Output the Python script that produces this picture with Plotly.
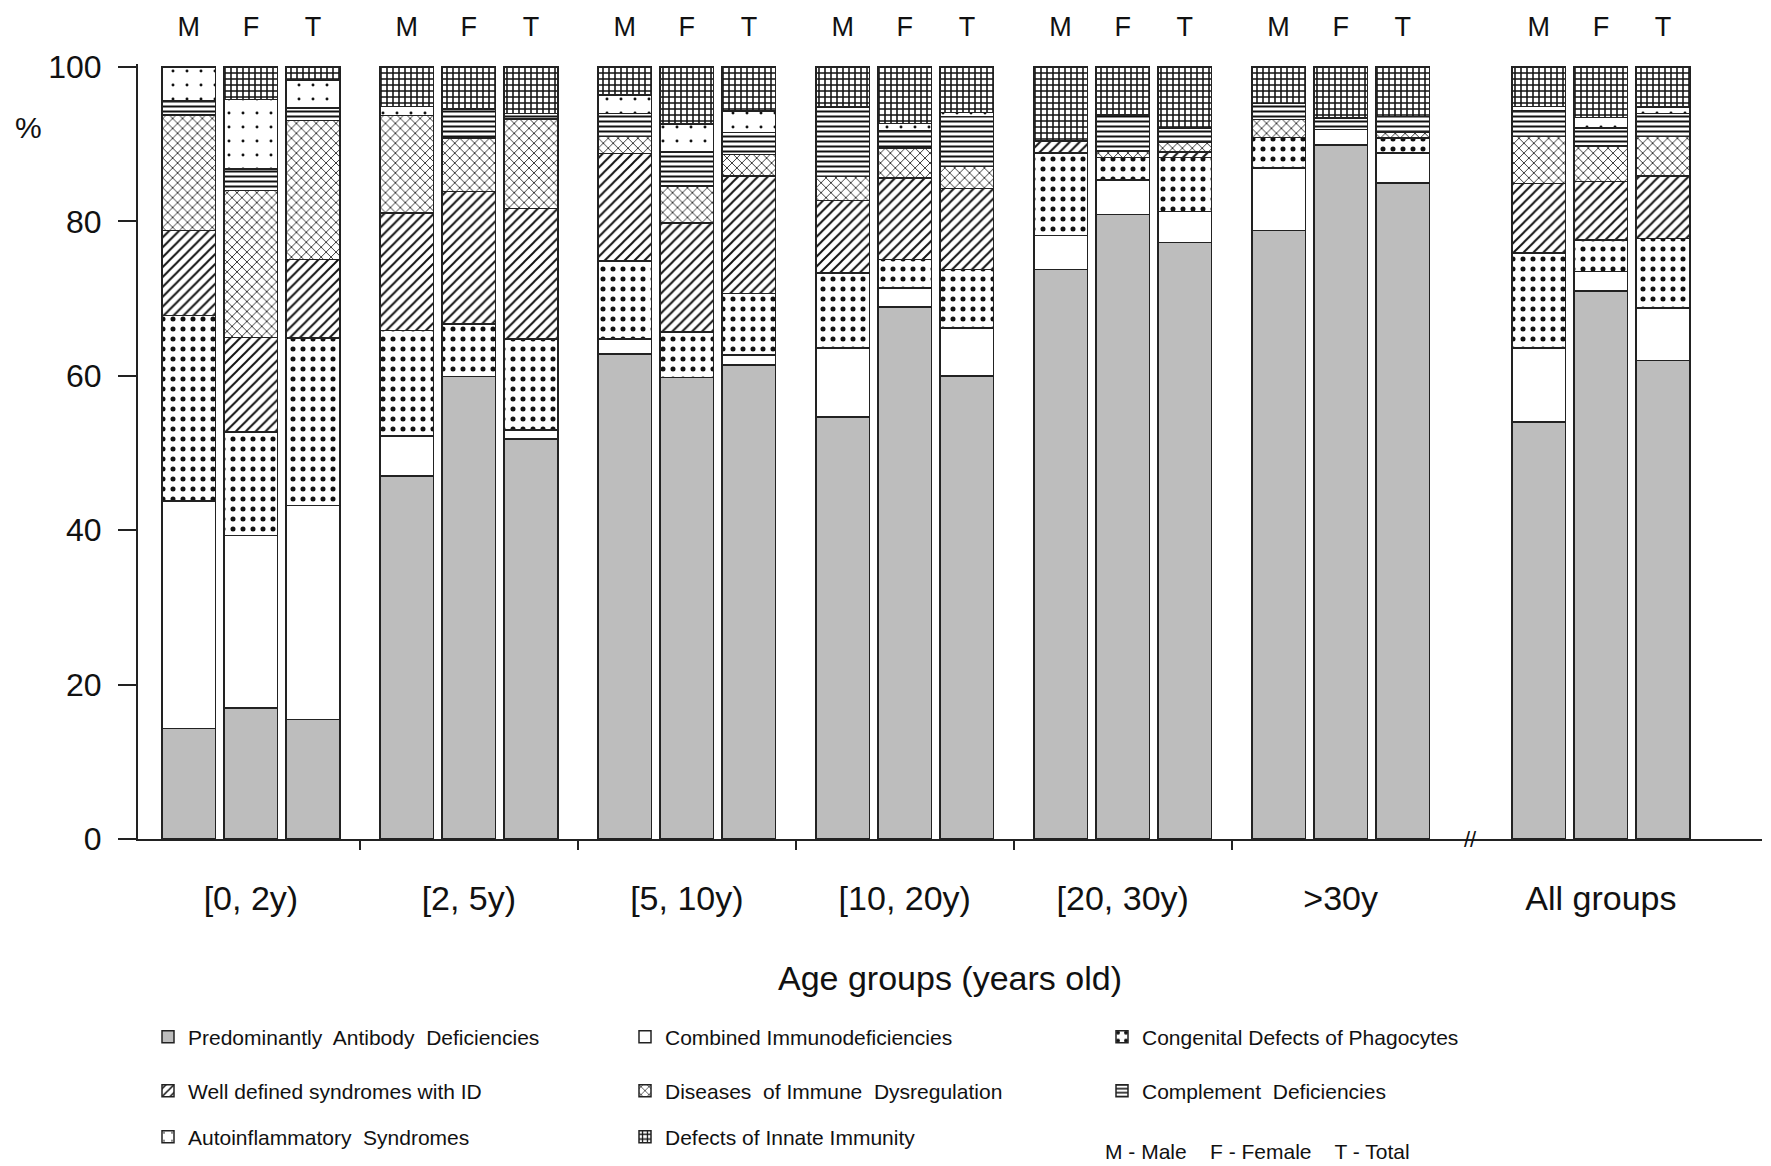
import plotly.graph_objects as go

# ---------------- data ----------------
groups = ["[0, 2y)", "[2, 5y)", "[5, 10y)", "[10, 20y)", "[20, 30y)", ">30y", "All groups"]
sexes = ["M", "F", "T"]

categories = [
    "Predominantly  Antibody  Deficiencies",
    "Combined Immunodeficiencies",
    "Congenital Defects of Phagocytes",
    "Well defined syndromes with ID",
    "Diseases  of Immune  Dysregulation",
    "Complement  Deficiencies",
    "Autoinflammatory  Syndromes",
    "Defects of Innate Immunity",
]

# values (%) ordered group by group, M F T within each group
pad      = [14.3, 17.0, 15.5, 47.0, 59.9, 51.8, 62.8, 59.8, 61.4, 54.7, 68.9, 60.0, 73.8, 80.9, 77.3, 78.8, 89.9, 85.0, 54.0, 71.0, 62.0]
combined = [29.5, 22.3, 27.7, 5.2, 0.0, 1.2, 2.0, 0.0, 1.3, 8.9, 2.5, 6.2, 4.4, 4.5, 4.0, 8.1, 2.0, 3.9, 9.6, 2.5, 6.8]
phago    = [24.0, 13.4, 21.7, 13.7, 6.8, 11.8, 10.1, 5.9, 8.0, 9.7, 3.7, 7.6, 10.7, 2.9, 7.0, 4.0, 0.0, 1.9, 12.3, 4.1, 9.0]
welldef  = [11.0, 12.3, 10.2, 15.2, 17.2, 16.9, 13.9, 14.1, 15.2, 9.4, 10.5, 10.5, 1.5, 0.0, 0.7, 0.0, 0.0, 0.0, 9.0, 7.6, 8.1]
dysreg   = [15.0, 19.0, 18.0, 12.6, 6.9, 11.6, 2.2, 4.8, 2.8, 3.1, 3.9, 2.8, 0.0, 0.8, 1.3, 2.3, 0.0, 0.8, 6.1, 4.6, 5.1]
compl    = [1.8, 2.8, 1.6, 0.0, 3.8, 0.7, 3.0, 4.4, 2.8, 9.0, 2.2, 6.5, 0.0, 4.7, 1.8, 2.1, 1.5, 2.0, 3.3, 2.3, 3.0]
autoinf  = [4.4, 9.0, 3.6, 1.2, 0.0, 0.0, 2.4, 3.6, 2.8, 0.0, 1.0, 0.5, 0.0, 0.0, 0.0, 0.0, 0.0, 0.0, 0.6, 1.4, 0.8]
innate   = [0.0, 4.2, 1.7, 5.1, 5.4, 6.0, 3.6, 7.4, 5.7, 5.2, 7.3, 5.9, 9.6, 6.2, 7.9, 4.7, 6.6, 6.4, 5.1, 6.5, 5.2]

series = [pad, combined, phago, welldef, dysreg, compl, autoinf, innate]

y_ticks = [0, 20, 40, 60, 80, 100]

# ---------------- layout helpers ----------------
ALL_GAP = 0.194   # extra space before "All groups"
INNER = 0.285     # spacing between M/F/T bars within a group
BAR_W = 0.246
X_RANGE = [-0.518, 6.933]

group_centers = [i + (ALL_GAP if g == "All groups" else 0.0) for i, g in enumerate(groups)]
x_pos = [c + (j - 1) * INNER for c in group_centers for j in range(len(sexes))]
sex_labels = sexes * len(groups)
boundaries = [i + 0.5 for i in range(5)]

styles = [
    dict(color="#bdbdbd", pattern=None),
    dict(color="white", pattern=None),
    dict(color="white", pattern=dict(shape=".", size=10, solidity=0.2)),
    dict(color="white", pattern=dict(shape="/", size=7, solidity=0.28)),
    dict(color="white", pattern=dict(shape="x", size=7, solidity=0.22)),
    dict(color="white", pattern=dict(shape="-", size=5, solidity=0.4)),
    dict(color="white", pattern=dict(shape=".", size=14, solidity=0.035)),
    dict(color="white", pattern=dict(shape="+", size=6, solidity=0.45)),
]
legend_of = ["legend", "legend", "legend", "legend2", "legend2", "legend2", "legend3", "legend3"]

FONT = "Liberation Sans, Arial, sans-serif"
TXT = "#111111"

fig = go.Figure()
for name, vals, st, lg in zip(categories, series, styles, legend_of):
    marker = dict(color=st["color"], line=dict(color="#222222", width=1.5))
    if st["pattern"] is not None:
        p = dict(st["pattern"])
        p.update(fgcolor="#111111", fgopacity=1, fillmode="replace")
        marker["pattern"] = p
    fig.add_trace(go.Bar(
        x=x_pos, y=vals, width=BAR_W, name=name, marker=marker,
        legend=lg, showlegend=True,
    ))

# invisible trace to carry the top M/F/T axis
fig.add_trace(go.Scatter(
    x=x_pos, y=[0] * len(x_pos), xaxis="x2", mode="markers",
    marker=dict(opacity=0), showlegend=False, hoverinfo="skip",
))

# page is rendered with an 8px body margin -> compensate
OFF = 8
W, H = 1771 - OFF, 1166 - OFF
ML, MR, MT, MB = 138 - OFF, 9, 64 - OFF, 327
plot_w = W - ML - MR
plot_h = H - MT - MB

def px_x(px):   # page pixel -> paper x
    return (px - OFF - ML) / plot_w

def px_y(py):   # page pixel -> paper y
    return (H - MB - (py - OFF)) / plot_h

legend_common = dict(
    orientation="h", xanchor="left", yanchor="middle", traceorder="normal",
    font=dict(family=FONT, size=21, color=TXT),
    bgcolor="rgba(0,0,0,0)", entrywidth=432, entrywidthmode="pixels",
    itemclick=False, itemdoubleclick=False,
)

fig.update_layout(
    width=W, height=H,
    margin=dict(l=ML, r=MR, t=MT, b=MB, autoexpand=False),
    paper_bgcolor="white", plot_bgcolor="white",
    barmode="stack",
    font=dict(family=FONT, color=TXT),
    xaxis=dict(
        range=X_RANGE, tickmode="array", tickvals=group_centers, ticktext=groups,
        ticks="", showgrid=False, zeroline=False,
        showline=True, linecolor="#222222", linewidth=2,
        tickfont=dict(family=FONT, size=34, color=TXT),
        ticklabelstandoff=28,
        minor=dict(tickmode="array", tickvals=boundaries, ticks="outside",
                   ticklen=9, tickwidth=2, tickcolor="#222222", showgrid=False),
        title=dict(text="Age groups (years old)", standoff=50,
                   font=dict(family=FONT, size=34, color=TXT)),
    ),
    xaxis2=dict(
        overlaying="x", side="top", range=X_RANGE, tickmode="array",
        tickvals=x_pos, ticktext=sex_labels, ticks="", showline=False,
        showgrid=False, zeroline=False,
        tickfont=dict(family=FONT, size=27, color=TXT),
        ticklabelstandoff=22,
    ),
    yaxis=dict(
        range=[0, 100.4], tickmode="array", tickvals=y_ticks,
        ticks="outside", ticklen=18, tickwidth=2, tickcolor="#222222",
        showline=True, linecolor="#222222", linewidth=2,
        showgrid=False, zeroline=False,
        tickfont=dict(family=FONT, size=32, color=TXT),
        ticklabelstandoff=10,
    ),
    legend=dict(x=px_x(148), y=px_y(1037), **legend_common),
    legend2=dict(x=px_x(148), y=px_y(1091), **legend_common),
    legend3=dict(x=px_x(148), y=px_y(1137), **legend_common),
    annotations=[
        dict(text="%", xref="paper", yref="paper", x=px_x(28), y=px_y(127),
             xanchor="center", yanchor="middle",
             showarrow=False, font=dict(family=FONT, size=30, color=TXT)),
        dict(text="//", xref="x", yref="paper", x=5.596, y=0,
             showarrow=False, font=dict(family=FONT, size=22, color=TXT),
             yanchor="middle"),
        dict(text="M - Male    F - Female    T - Total", xref="paper", yref="paper",
             x=px_x(1103), y=px_y(1151), xanchor="left", yanchor="middle",
             showarrow=False, font=dict(family=FONT, size=21, color=TXT)),
    ],
)

fig.write_html("out.html")
